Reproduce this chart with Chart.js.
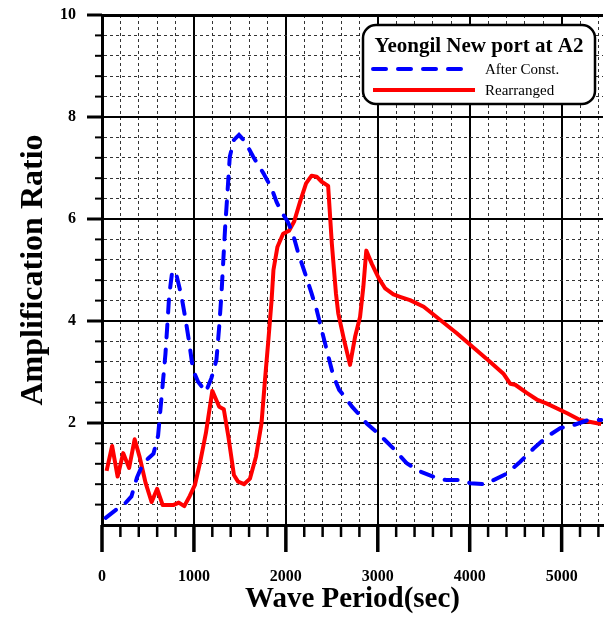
<!DOCTYPE html>
<html>
<head>
<meta charset="utf-8">
<title>Yeongil New port at A2</title>
<script src="https://cdn.jsdelivr.net/npm/chart.js@4.4.1/dist/chart.umd.min.js"></script>
<style>
  html, body { margin: 0; padding: 0; background: #fff; }
  #wrap { width: 604px; height: 618px; }
</style>
</head>
<body>
<div id="wrap"><canvas id="chart" width="604" height="618"></canvas></div>
<script>
// Amplification ratio vs. wave period, harbour point A2
const periodAfter = [40, 160, 260, 320, 380, 440, 500, 560, 610, 640, 670, 690, 710, 730, 765, 810, 865, 910, 950, 990,
  1045, 1100, 1130, 1190, 1245, 1275, 1300, 1320, 1340, 1362, 1390, 1435, 1490, 1555, 1645, 1755, 1845, 1900, 1950, 2025,
  2080, 2135, 2210, 2280, 2335, 2390, 2445, 2515, 2580, 2625, 2720, 2810, 2880, 3025, 3170, 3315, 3460, 3645, 3750, 3900,
  4005, 4150, 4260, 4405, 4550, 4695, 4840, 4985, 5130, 5275, 5430];
const ratioAfter = [0.14, 0.31, 0.44, 0.56, 0.93, 1.18, 1.30, 1.40, 1.75, 2.35, 2.95, 3.35, 3.90, 4.48, 4.99, 4.90, 4.48, 4.02, 3.56, 3.04,
  2.81, 2.68, 2.61, 2.88, 3.24, 3.89, 4.54, 5.20, 5.85, 6.44, 7.22, 7.55, 7.65, 7.52, 7.22, 6.90, 6.60, 6.33, 6.15, 5.93,
  5.69, 5.33, 4.93, 4.54, 4.22, 3.82, 3.43, 2.93, 2.65, 2.55, 2.32, 2.14, 1.99, 1.76, 1.50, 1.21, 1.05, 0.92, 0.88, 0.88,
  0.82, 0.80, 0.88, 1.01, 1.24, 1.50, 1.73, 1.90, 1.96, 2.05, 2.06];

const periodRearranged = [50, 110, 170, 230, 295, 355, 410, 475, 540, 600, 660, 775, 835, 895, 955, 1010, 1065, 1130, 1200, 1275,
  1325, 1375, 1435, 1480, 1545, 1610, 1675, 1735, 1770, 1810, 1845, 1865, 1908, 1970, 2035, 2090, 2155, 2220, 2280, 2335,
  2390, 2460, 2500, 2545, 2570, 2633, 2698, 2753, 2807, 2843, 2875, 2935, 3010, 3080, 3170, 3250, 3350, 3500, 3680, 3860,
  4040, 4220, 4370, 4440, 4495, 4620, 4730, 4840, 5060, 5200, 5430];
const ratioRearranged = [1.06, 1.55, 0.95, 1.41, 1.12, 1.68, 1.33, 0.82, 0.45, 0.71, 0.39, 0.39, 0.44, 0.37, 0.57, 0.78, 1.21, 1.80, 2.63, 2.32,
  2.27, 1.73, 0.98, 0.85, 0.80, 0.91, 1.34, 1.99, 2.78, 3.63, 4.41, 5.00, 5.45, 5.71, 5.77, 5.95, 6.34, 6.70, 6.85, 6.83,
  6.73, 6.65, 5.52, 4.54, 4.15, 3.63, 3.14, 3.69, 4.08, 4.67, 5.38, 5.12, 4.84, 4.64, 4.52, 4.47, 4.41, 4.28, 4.02, 3.76,
  3.48, 3.20, 2.96, 2.77, 2.75, 2.59, 2.46, 2.38, 2.19, 2.06, 1.98];

const xLabelTicks = [0, 1000, 2000, 3000, 4000, 5000];
const yLabelTicks = [2, 4, 6, 8, 10];
const seriesNames = ['After Const.', 'Rearranged'];
const legendTitle = 'Yeongil New port at A2';

const SERIF = '"Liberation Serif", "Times New Roman", serif';

const pairs = (xs, ys) => xs.map((v, i) => ({ x: v, y: ys[i] }));
const isXMajor = v => Math.abs(v % 1000) < 1e-6;
const isYMajor = v => Math.abs(v / 2 - Math.round(v / 2)) < 1e-6;

// Keep the plot frame fixed: no extra room reserved for label overhang
const fixBox = size => s => {
  if (s.isHorizontal()) s.height = size; else s.width = size;
  s.paddingTop = 0; s.paddingBottom = 0; s.paddingLeft = 0; s.paddingRight = 0;
};

// Outward tick marks: long at labelled values, short in between
const axisTickMarks = {
  id: 'axisTickMarks',
  afterDraw(chart) {
    const { ctx, chartArea, scales: { x, y } } = chart;
    ctx.save();
    ctx.strokeStyle = '#000';
    ctx.lineCap = 'butt';
    x.ticks.forEach(t => {
      const px = x.getPixelForValue(t.value);
      const major = isXMajor(t.value);
      ctx.lineWidth = major ? 3.5 : 2.5;
      ctx.beginPath();
      ctx.moveTo(px, chartArea.bottom);
      ctx.lineTo(px, chartArea.bottom + (major ? 27 : 12));
      ctx.stroke();
    });
    y.ticks.forEach(t => {
      if (t.value === 0) return;
      const py = y.getPixelForValue(t.value);
      const major = isYMajor(t.value);
      ctx.lineWidth = major ? 3 : 2;
      ctx.beginPath();
      ctx.moveTo(chartArea.left, py);
      ctx.lineTo(chartArea.left - (major ? 15 : 7), py);
      ctx.stroke();
    });
    ctx.restore();
  }
};

// Boxed legend with title in the upper right of the plot
const boxedLegend = {
  id: 'boxedLegend',
  afterDraw(chart) {
    const { ctx, chartArea } = chart;
    const bx = chartArea.right - 240, by = chartArea.top + 10, bw = 232, bh = 79;
    ctx.save();
    ctx.beginPath();
    ctx.roundRect(bx, by, bw, bh, 13);
    ctx.fillStyle = '#fff';
    ctx.fill();
    ctx.lineWidth = 2.5;
    ctx.strokeStyle = '#000';
    ctx.stroke();

    ctx.fillStyle = '#000';
    ctx.textBaseline = 'middle';
    ctx.textAlign = 'center';
    ctx.font = 'bold 21px ' + SERIF;
    ctx.fillText(legendTitle, bx + bw / 2, by + 22);

    const ds = chart.data.datasets;
    const rows = [by + 44, by + 65];
    ds.forEach((d, i) => {
      ctx.beginPath();
      ctx.setLineDash(d.borderDash || []);
      ctx.lineCap = d.borderCapStyle || 'butt';
      ctx.lineWidth = d.borderWidth;
      ctx.strokeStyle = d.borderColor;
      ctx.moveTo(bx + 10, rows[i]);
      ctx.lineTo(bx + (i === 0 ? 102 : 112), rows[i]);
      ctx.stroke();
      ctx.setLineDash([]);
      ctx.textAlign = 'left';
      ctx.font = '15px ' + SERIF;
      ctx.fillStyle = '#000';
      ctx.fillText(d.label, bx + 122, rows[i] + 1);
    });
    ctx.restore();
  }
};

new Chart(document.getElementById('chart'), {
  type: 'line',
  data: {
    datasets: [
      {
        label: seriesNames[0],
        data: pairs(periodAfter, ratioAfter),
        borderColor: '#0000ff',
        borderWidth: 4,
        borderDash: [13, 12],
        borderCapStyle: 'round',
        pointRadius: 0,
        tension: 0,
        fill: false
      },
      {
        label: seriesNames[1],
        data: pairs(periodRearranged, ratioRearranged),
        borderColor: '#ff0000',
        borderWidth: 4,
        borderJoinStyle: 'round',
        pointRadius: 0,
        tension: 0,
        fill: false
      }
    ]
  },
  options: {
    responsive: false,
    animation: false,
    layout: { padding: { top: 15, right: 1, bottom: 0, left: 0 } },
    plugins: {
      legend: { display: false },
      tooltip: { enabled: false }
    },
    scales: {
      x: {
        type: 'linear',
        position: 'bottom',
        min: 0,
        max: 5450,
        afterFit: fixBox(93),
        ticks: {
          stepSize: 200,
          includeBounds: false,
          autoSkip: false,
          maxRotation: 0,
          padding: 42,
          color: '#000',
          font: { family: SERIF, size: 16, weight: 'bold' },
          callback: v => (xLabelTicks.includes(v) ? String(v) : '')
        },
        grid: {
          drawTicks: false,
          color: c => (c.tick && isXMajor(c.tick.value) ? '#000' : '#333'),
          lineWidth: c => (c.tick && isXMajor(c.tick.value) ? 2 : 1)
        },
        border: {
          display: true,
          color: '#000',
          width: 3,
          dash: c => (c.tick && !isXMajor(c.tick.value) ? [3, 3] : [])
        },
        title: {
          display: true,
          text: 'Wave Period(sec)',
          color: '#000',
          font: { family: SERIF, size: 29, weight: 'bold' },
          padding: { top: 0, bottom: 1 }
        }
      },
      y: {
        type: 'linear',
        position: 'left',
        min: 0,
        max: 10,
        afterFit: fixBox(102),
        ticks: {
          stepSize: 0.4,
          autoSkip: false,
          padding: 26,
          color: '#000',
          font: { family: SERIF, size: 16, weight: 'bold' },
          callback: v => (yLabelTicks.some(t => Math.abs(t - v) < 1e-6) ? String(Math.round(v)) : '')
        },
        grid: {
          drawTicks: false,
          color: c => (c.tick && isYMajor(c.tick.value) ? '#000' : '#333'),
          lineWidth: c => {
            if (!c.tick) return 1;
            if (Math.abs(c.tick.value - 10) < 1e-6) return 3;
            return isYMajor(c.tick.value) ? 2 : 1;
          }
        },
        border: {
          display: true,
          color: '#000',
          width: 3,
          dash: c => (c.tick && !isYMajor(c.tick.value) ? [3, 3] : [])
        },
        title: {
          display: true,
          text: 'Amplification Ratio',
          color: '#000',
          font: { family: SERIF, size: 32, weight: 'bold' },
          padding: { top: 15, bottom: 0 }
        }
      }
    }
  },
  plugins: [axisTickMarks, boxedLegend]
});
</script>
</body>
</html>
